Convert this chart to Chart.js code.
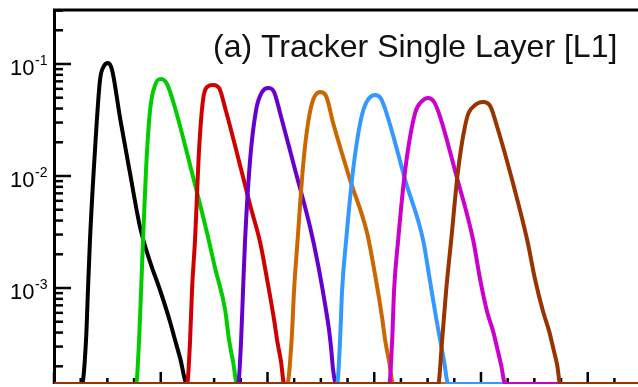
<!DOCTYPE html>
<html><head><meta charset="utf-8">
<script src="https://cdn.jsdelivr.net/npm/chart.js@4/dist/chart.umd.min.js"></script>
<style>html,body{margin:0;padding:0;background:#fff;overflow:hidden}</style>
</head><body>
<canvas id="c" width="638" height="387"></canvas>
<script>
// ---- labels / axis values ----
const TITLE = '(a) Tracker Single Layer [L1]';
const yTickValues = [1e-1, 1e-2, 1e-3];
const yTickExponents = ['-1', '-2', '-3'];
const xMajorTicks = [0, 1, 2, 3, 4, 5];
const Y_MIN = 1.39e-4, Y_MAX = 0.3034;
const X_MIN = 0, X_MAX = 5.471;

// ---- series (0 = empty bin, drawn on the axis floor) ----
const blackX = [0, 0.262, 0.300, 0.319, 0.337, 0.384, 0.431, 0.469, 0.506, 0.544, 0.619, 0.712, 0.806, 0.900, 0.993, 1.087, 1.134, 1.181, 1.246, 5.6];
const blackY = [0, 0, 0.000343, 0.00100, 0.00268, 0.0171, 0.0719, 0.0960, 0.102, 0.0884, 0.0329, 0.0106, 0.0035, 0.00171, 0.00096, 0.00050, 0.000343, 0.000238, 0, 0];

const greenX = [0, 0.769, 0.797, 0.816, 0.834, 0.862, 0.900, 0.947, 1.003, 1.059, 1.134, 1.275, 1.434, 1.509, 1.603, 1.640, 1.678, 1.715, 5.6];
const greenY = [0, 0, 0.000343, 0.00096, 0.00268, 0.0113, 0.0388, 0.0649, 0.0735, 0.0663, 0.0405, 0.0125, 0.0031, 0.00151, 0.00064, 0.000343, 0.000219, 0, 0];

const redX = [0, 1.246, 1.275, 1.293, 1.321, 1.359, 1.396, 1.434, 1.490, 1.546, 1.603, 1.743, 1.837, 1.931, 2.006, 2.062, 2.090, 2.127, 2.156, 5.6];
const redY = [0, 0, 0.000343, 0.00096, 0.00268, 0.0171, 0.0477, 0.0624, 0.0649, 0.0611, 0.0405, 0.0125, 0.0055, 0.00256, 0.00106, 0.00052, 0.000343, 0.000219, 0, 0];

const purpleX = [0, 1.724, 1.753, 1.771, 1.790, 1.837, 1.893, 1.949, 2.006, 2.062, 2.118, 2.259, 2.399, 2.474, 2.540, 2.577, 2.596, 2.615, 2.643, 5.6];
const purpleY = [0, 0, 0.000343, 0.00096, 0.00268, 0.0139, 0.0388, 0.0562, 0.0611, 0.0562, 0.0365, 0.0113, 0.0035, 0.00161, 0.00071, 0.00042, 0.00029, 0.000185, 0, 0];

const orangeX = [0, 2.184, 2.226, 2.249, 2.282, 2.334, 2.380, 2.427, 2.493, 2.549, 2.615, 2.774, 2.933, 3.008, 3.074, 3.102, 3.140, 3.177, 5.6];
const orangeY = [0, 0, 0.000343, 0.00096, 0.00268, 0.0125, 0.0297, 0.0477, 0.0562, 0.0518, 0.0297, 0.0092, 0.0031, 0.00131, 0.00054, 0.000343, 0.000219, 0, 0];

const blueX = [0, 2.652, 2.680, 2.699, 2.737, 2.802, 2.868, 2.924, 3.008, 3.065, 3.149, 3.290, 3.458, 3.524, 3.580, 3.618, 3.655, 3.693, 5.6];
const blueY = [0, 0, 0.000343, 0.00096, 0.00268, 0.0113, 0.0297, 0.0449, 0.0528, 0.0487, 0.0285, 0.0092, 0.00268, 0.00113, 0.00054, 0.000343, 0.000219, 0, 0];

const magentaX = [0, 3.140, 3.168, 3.186, 3.224, 3.290, 3.383, 3.440, 3.505, 3.561, 3.618, 3.768, 3.927, 3.993, 4.058, 4.114, 4.152, 4.189, 4.227, 5.6];
const magentaY = [0, 0, 0.000343, 0.00096, 0.00268, 0.0113, 0.0365, 0.0458, 0.0497, 0.0458, 0.0336, 0.0102, 0.00268, 0.00118, 0.00061, 0.00041, 0.00029, 0.000205, 0, 0];

const brownX = [0, 3.599, 3.636, 3.674, 3.721, 3.786, 3.871, 3.936, 4.021, 4.086, 4.152, 4.292, 4.433, 4.508, 4.583, 4.639, 4.677, 4.714, 4.742, 5.6];
const brownY = [0, 0, 0.000343, 0.00096, 0.00268, 0.0113, 0.0336, 0.0422, 0.0458, 0.0422, 0.0274, 0.0092, 0.00268, 0.00118, 0.00061, 0.00041, 0.00029, 0.000205, 0, 0];

const seriesNames = ['black', 'green', 'red', 'purple', 'orange', 'blue', 'magenta', 'brown'];
const seriesX = [blackX, greenX, redX, purpleX, orangeX, blueX, magentaX, brownX];
const seriesY = [blackY, greenY, redY, purpleY, orangeY, blueY, magentaY, brownY];
const seriesColors = ['#000000', '#00cc00', '#d00000', '#6600cc', '#cc6600', '#3399ff', '#cc00cc', '#993300'];

const datasets = seriesNames.map((name, i) => ({
  label: name,
  data: seriesX[i].map((x, j) => ({ x: x, y: seriesY[i][j] > 0 ? seriesY[i][j] : Y_MIN })),
  borderColor: seriesColors[i],
  borderWidth: 4,
  pointRadius: 0,
  fill: false,
  cubicInterpolationMode: 'monotone',
  borderJoinStyle: 'round',
  borderCapStyle: 'round',
  order: seriesNames.length - i
}));

const framePlugin = {
  id: 'frame',
  beforeDatasetsDraw(chart) {
    const { ctx, chartArea: a, scales } = chart;
    const xs = scales.x, ys = scales.y;
    ctx.save();
    ctx.strokeStyle = '#000';
    // frame
    ctx.lineWidth = 3;
    ctx.beginPath();
    ctx.moveTo(a.left + 0.5, a.bottom);
    ctx.lineTo(a.left + 0.5, a.top);
    ctx.lineTo(a.right + 5, a.top);
    ctx.stroke();
    // y ticks (inside)
    ctx.lineWidth = 2.5;
    for (let e = -4; e <= -1; e++) {
      for (let m = 1; m <= 9; m++) {
        const v = m * Math.pow(10, e);
        if (v < Y_MIN || v > Y_MAX) continue;
        const py = ys.getPixelForValue(v);
        const len = m === 1 ? 17 : 9;
        ctx.beginPath();
        ctx.moveTo(a.left, py);
        ctx.lineTo(a.left + len, py);
        ctx.stroke();
      }
    }
    // x ticks (inside)
    for (let k = 0; k <= 22; k++) {
      const v = k * 0.25;
      if (v > X_MAX) break;
      const px = xs.getPixelForValue(v);
      const major = xMajorTicks.includes(v);
      const len = major ? 12 : 6;
      ctx.beginPath();
      ctx.moveTo(px, a.bottom);
      ctx.lineTo(px, a.bottom - len);
      ctx.stroke();
    }
    ctx.restore();
  },
  afterDraw(chart) {
    const { ctx, scales } = chart;
    const ys = scales.y;
    ctx.save();
    ctx.fillStyle = '#000';
    ctx.textBaseline = 'alphabetic';
    ctx.textAlign = 'left';
    yTickValues.forEach((v, i) => {
      const py = ys.getPixelForValue(v);
      ctx.font = '22px "Liberation Sans", Arial, sans-serif';
      ctx.fillText('10', 10, py + 11);
      const w = ctx.measureText('10').width;
      ctx.font = '14px "Liberation Sans", Arial, sans-serif';
      ctx.fillText(yTickExponents[i], 10 + w + 0.5, py + 1);
    });
    ctx.font = '32px "Liberation Sans", Arial, sans-serif';
    ctx.fillStyle = '#111';
    ctx.fillText(TITLE, 213, 57);
    ctx.restore();
  }
};

new Chart(document.getElementById('c'), {
  type: 'line',
  data: { datasets: datasets },
  options: {
    responsive: false,
    animation: false,
    devicePixelRatio: 1,
    layout: { padding: { left: 54, top: 10, right: 0, bottom: 3 } },
    scales: {
      x: { type: 'linear', min: X_MIN, max: X_MAX, display: false },
      y: { type: 'logarithmic', min: Y_MIN, max: Y_MAX, display: false }
    },
    plugins: { legend: { display: false }, tooltip: { enabled: false } }
  },
  plugins: [framePlugin]
});
</script>
</body></html>
